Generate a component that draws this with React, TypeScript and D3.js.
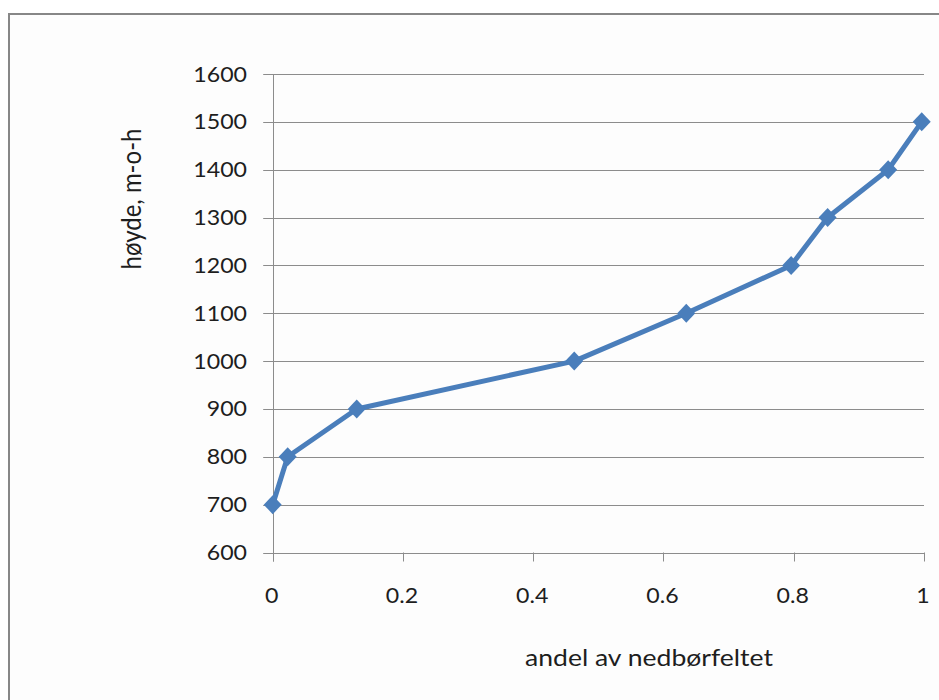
import React from "react";
import * as d3 from "d3";

// Hypsographic curve: share of catchment area below a given elevation
const andel = [0, 0.023, 0.129, 0.463, 0.635, 0.796, 0.852, 0.945, 0.9965];
const hoyde = [700, 800, 900, 1000, 1100, 1200, 1300, 1400, 1500];

const xTicks = [0, 0.2, 0.4, 0.6, 0.8, 1];
const yTicks = [600, 700, 800, 900, 1000, 1100, 1200, 1300, 1400, 1500, 1600];

const xTitle = "andel av nedbørfeltet";
const yTitle = "høyde, m-o-h";

const W = 939;
const H = 700;
const FONT = "Lato, 'Open Sans', sans-serif";
const STRETCH = 1.13;
const TITLE_STRETCH = 1.18;
const GRID = "#8c8c8c";
const BLUE = "#4a7ebb";
const INK = "#1e1e1e";

export default function App() {
  const x = d3.scaleLinear().domain([0, 1]).range([272.7, 924]);
  const y = d3.scaleLinear().domain([600, 1600]).range([552.5, 74]);

  const pts: [number, number][] = andel.map((a, i) => [a, hoyde[i]]);
  const line = d3
    .line<[number, number]>()
    .x((d) => x(d[0]))
    .y((d) => y(d[1]));

  const [x0, x1] = x.range();
  const [y0, y1] = y.range();

  return (
    <svg
      width={W}
      height={H}
      style={{ position: "absolute", left: 0, top: 0, background: "#fff" }}
    >
      {/* chart frame */}
      <rect x={9} y={14} width={W + 20} height={H + 20} fill="#fdfdfd" stroke="#878787" strokeWidth={2} />

      {/* horizontal gridlines with left tick stubs */}
      {yTicks.map((t) => (
        <line
          key={"g" + t}
          x1={x0 - 9.5}
          x2={x1}
          y1={Math.round(y(t)) + 0.5}
          y2={Math.round(y(t)) + 0.5}
          stroke={GRID}
          strokeWidth={1}
        />
      ))}

      {/* y axis */}
      <line x1={Math.round(x0) + 0.5} x2={Math.round(x0) + 0.5} y1={y1} y2={y0 + 9} stroke={GRID} />
      {/* x tick marks */}
      {xTicks.map((t) => (
        <line
          key={"xt" + t}
          x1={Math.round(x(t)) + 0.5}
          x2={Math.round(x(t)) + 0.5}
          y1={y0}
          y2={y0 + 9}
          stroke={GRID}
        />
      ))}

      {/* y tick labels */}
      {yTicks.map((t) => (
        <text
          key={"yl" + t}
          transform={`translate(${247},${y(t) + 7.5}) scale(${STRETCH},1)`}
          textAnchor="end"
          fontFamily={FONT}
          fontSize={20.5}
          fill={INK}
        >
          {t}
        </text>
      ))}

      {/* x tick labels */}
      {xTicks.map((t) => (
        <text
          key={"xl" + t}
          transform={`translate(${x(t) - 1},${603}) scale(${STRETCH},1)`}
          textAnchor="middle"
          fontFamily={FONT}
          fontSize={20.5}
          fill={INK}
        >
          {d3.format("")(t)}
        </text>
      ))}

      {/* axis titles */}
      <text
        transform={`translate(${649},${666}) scale(${TITLE_STRETCH},1)`}
        textAnchor="middle"
        fontFamily={FONT}
        fontSize={22.5}
        fill={INK}
      >
        {xTitle}
      </text>
      <text
        transform={`translate(${141},${199}) rotate(-90) scale(1,${TITLE_STRETCH - 0.06})`}
        textAnchor="middle"
        fontFamily={FONT}
        fontSize={24}
        fill={INK}
      >
        {yTitle}
      </text>

      {/* data series */}
      <path d={line(pts) ?? ""} fill="none" stroke={BLUE} strokeWidth={5} strokeLinejoin="round" />
      {pts.map((d, i) => {
        const cx = x(d[0]);
        const cy = y(d[1]);
        return (
          <path
            key={"m" + i}
            d={`M${cx},${cy - 9.5}L${cx + 9},${cy}L${cx},${cy + 9.5}L${cx - 9},${cy}Z`}
            fill={BLUE}
          />
        );
      })}
    </svg>
  );
}
